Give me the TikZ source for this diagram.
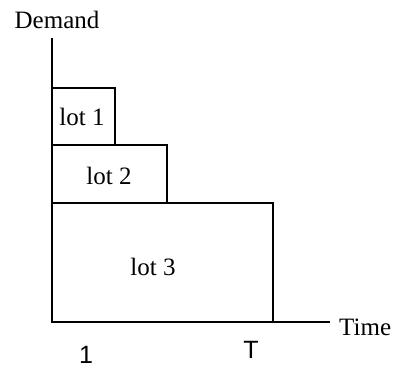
\documentclass[tikz,border=0pt]{standalone}
\usepackage{fontspec}
\setmainfont{Liberation Serif}
\newfontfamily\arialfont{Liberation Sans}
\usepackage{tikz}

\tikzset{
  lotbox/.style={draw, line width=1.3pt, inner sep=0pt, outer sep=0pt, anchor=north west},
  lottext/.style={inner sep=0pt, font=\fontsize{25}{30}\selectfont},
  axislabel/.style={inner sep=0pt, font=\fontsize{25}{30}\selectfont},
  ticklabel/.style={inner sep=0pt, font=\arialfont\fontsize{25}{30}\selectfont}
}

\begin{document}
\begin{tikzpicture}[x=1pt, y=-1pt]
\useasboundingbox (0,0) rectangle (396,373);

% the three lots
\node[lotbox, minimum width=221pt, minimum height=119pt] (lot3) at (52,203) {};
\node[lotbox, minimum width=115pt, minimum height=58pt] (lot2) at (52,145) {};
\node[lotbox, minimum width=63pt, minimum height=57pt] (lot1) at (52,88) {};
\node[lottext] (lot1txt) at (82,117) {lot 1};
\node[lottext] (lot2txt) at (109,176) {lot 2};
\node[lottext] (lot3txt) at (153,267) {lot 3};

% axes
\coordinate (origin) at (52,322);
\coordinate (ytop) at (52,38);
\coordinate (xend) at (330,322);
\draw[line width=1.3pt] (ytop) -- (origin) -- (xend);

\node[axislabel, anchor=base] (demand) at (57,28) {Demand};
\node[axislabel, anchor=base west] (time) at (339,335) {Time};
\node[ticklabel, anchor=base] (one) at (86,363) {1};
\node[ticklabel, anchor=base] (tee) at (251,358) {T};
\end{tikzpicture}
\end{document}
